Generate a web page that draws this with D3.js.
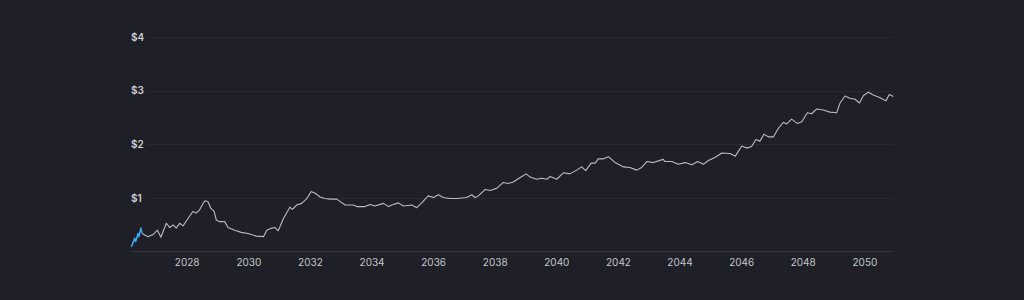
<!DOCTYPE html>
<html>
<head>
<meta charset="utf-8" />
<title>Price prediction</title>
<script src="https://cdn.jsdelivr.net/npm/d3@7/dist/d3.min.js"></script>
<style>
    html, body {
        margin: 0;
        padding: 0;
        background: #1f2027;
    }
    svg text {
        font-family: Inter, "Noto Sans", sans-serif;
    }
</style>
</head>
<body>
<div id="chart"></div>
<script>
// price history (blue)
var historyYears  = [2026.20, 2026.31, 2026.34, 2026.42, 2026.45, 2026.51, 2026.55];
var historyPrices = [0.09, 0.25, 0.19, 0.34, 0.28, 0.44, 0.34];

// forecast (grey)
var forecastYears = [
    2026.55, 2026.64, 2026.74, 2026.91, 2027.05, 2027.16, 2027.34, 2027.45, 2027.56, 2027.66,
    2027.77, 2027.88, 2028.02, 2028.20, 2028.31, 2028.42, 2028.53, 2028.60, 2028.69, 2028.78,
    2028.89, 2028.96, 2029.07, 2029.23, 2029.34, 2029.56, 2029.77, 2029.99, 2030.26, 2030.49,
    2030.60, 2030.76, 2030.87, 2030.97, 2031.14, 2031.35, 2031.43, 2031.57, 2031.73, 2031.90,
    2032.04, 2032.17, 2032.33, 2032.49, 2032.65, 2032.87, 2033.14, 2033.41, 2033.52, 2033.79,
    2033.95, 2034.11, 2034.38, 2034.55, 2034.66, 2034.87, 2035.03, 2035.31, 2035.47, 2035.63,
    2035.84, 2036.01, 2036.17, 2036.33, 2036.55, 2036.77, 2037.09, 2037.25, 2037.36, 2037.47,
    2037.69, 2037.85, 2038.06, 2038.28, 2038.44, 2038.60, 2038.88, 2039.02, 2039.15, 2039.36,
    2039.53, 2039.69, 2039.80, 2040.01, 2040.23, 2040.44, 2040.66, 2040.82, 2040.95, 2041.13,
    2041.26, 2041.36, 2041.53, 2041.69, 2041.91, 2042.18, 2042.39, 2042.61, 2042.77, 2042.94,
    2043.15, 2043.47, 2043.53, 2043.75, 2043.96, 2044.18, 2044.40, 2044.59, 2044.77, 2044.94,
    2045.16, 2045.37, 2045.64, 2045.81, 2046.02, 2046.18, 2046.34, 2046.48, 2046.61, 2046.74,
    2046.88, 2047.05, 2047.21, 2047.37, 2047.48, 2047.64, 2047.82, 2047.97, 2048.15, 2048.29,
    2048.45, 2048.67, 2048.88, 2049.10, 2049.21, 2049.37, 2049.53, 2049.70, 2049.84, 2049.97,
    2050.13, 2050.29, 2050.51, 2050.70, 2050.81, 2050.94
];
var forecastPrices = [
    0.34, 0.31, 0.28, 0.32, 0.40, 0.27, 0.53, 0.45, 0.50, 0.44,
    0.53, 0.48, 0.60, 0.75, 0.72, 0.78, 0.90, 0.95, 0.93, 0.81,
    0.75, 0.59, 0.56, 0.56, 0.45, 0.40, 0.36, 0.34, 0.29, 0.28,
    0.40, 0.44, 0.45, 0.39, 0.62, 0.83, 0.79, 0.87, 0.90, 0.99,
    1.12, 1.09, 1.02, 0.99, 0.98, 0.98, 0.87, 0.87, 0.84, 0.84,
    0.88, 0.85, 0.90, 0.84, 0.87, 0.91, 0.85, 0.87, 0.82, 0.91,
    1.04, 1.01, 1.06, 1.01, 0.99, 0.99, 1.01, 1.06, 1.01, 1.04,
    1.16, 1.14, 1.18, 1.29, 1.27, 1.30, 1.40, 1.45, 1.39, 1.35,
    1.37, 1.35, 1.40, 1.35, 1.47, 1.45, 1.52, 1.58, 1.51, 1.65,
    1.65, 1.73, 1.73, 1.77, 1.66, 1.58, 1.57, 1.52, 1.57, 1.68,
    1.66, 1.72, 1.68, 1.68, 1.63, 1.66, 1.62, 1.68, 1.63, 1.70,
    1.76, 1.84, 1.83, 1.78, 1.97, 1.93, 1.96, 2.09, 2.06, 2.19,
    2.14, 2.14, 2.30, 2.41, 2.38, 2.47, 2.39, 2.42, 2.59, 2.57,
    2.66, 2.64, 2.60, 2.59, 2.77, 2.90, 2.86, 2.84, 2.77, 2.91,
    2.97, 2.92, 2.87, 2.81, 2.93, 2.89
];

var yTicks = [0, 1, 2, 3, 4];
var xTickYears = [2028, 2030, 2032, 2034, 2036, 2038, 2040, 2042, 2044, 2046, 2048, 2050];

// decimal year -> Date
function toDate(y) {
    var yr = Math.floor(y);
    var start = new Date(yr, 0, 1), end = new Date(yr + 1, 0, 1);
    return new Date(+start + (y - yr) * (end - start));
}

var width = 1024, height = 300;
var svg = d3.select("#chart").append("svg")
    .attr("width", width)
    .attr("height", height);

var x = d3.scaleTime()
    .domain([toDate(2026.20), toDate(2050.94)])
    .range([131.3, 893.3]);

var y = d3.scaleLinear()
    .domain([0, 4])
    .range([251.7, 37]);

// gridlines
svg.append("g")
    .selectAll("line")
    .data(yTicks.filter(function (d) { return d > 0; }))
    .enter().append("line")
    .attr("x1", 148)
    .attr("x2", 893)
    .attr("y1", function (d) { return Math.round(y(d)) + 0.5; })
    .attr("y2", function (d) { return Math.round(y(d)) + 0.5; })
    .attr("stroke", "#282a32")
    .attr("stroke-width", 1);

// baseline
svg.append("line")
    .attr("x1", 131)
    .attr("x2", 893)
    .attr("y1", Math.round(y(0)) - 0.5)
    .attr("y2", Math.round(y(0)) - 0.5)
    .attr("stroke", "#34363f")
    .attr("stroke-width", 1);

// y labels
svg.append("g")
    .selectAll("text")
    .data(yTicks.filter(function (d) { return d > 0; }))
    .enter().append("text")
    .attr("x", 131)
    .attr("y", function (d) { return y(d); })
    .attr("dy", "0.35em")
    .attr("fill", "#cfd0d4")
    .style("font-size", "10px")
    .style("font-weight", "600")
    .text(function (d) { return "$" + d; });

// x axis
var xAxis = d3.axisBottom(x)
    .tickValues(xTickYears.map(function (d) { return new Date(d, 0, 1); }))
    .tickFormat(d3.timeFormat("%Y"))
    .tickSize(0)
    .tickPadding(7);

var gx = svg.append("g")
    .attr("transform", "translate(0," + Math.round(y(0)) + ")")
    .call(xAxis);
gx.select(".domain").remove();
gx.selectAll("text")
    .attr("fill", "#c4c5ca")
    .style("font-size", "10px")
    .style("font-family", "Inter, 'Noto Sans', sans-serif");

var line = d3.line()
    .x(function (d) { return x(toDate(d[0])); })
    .y(function (d) { return y(d[1]); });

svg.append("path")
    .datum(d3.zip(forecastYears, forecastPrices))
    .attr("d", line)
    .attr("fill", "none")
    .attr("stroke", "#b9bbc2")
    .attr("stroke-width", 1.1)
    .attr("stroke-linejoin", "round");

svg.append("path")
    .datum(d3.zip(historyYears, historyPrices))
    .attr("d", line)
    .attr("fill", "none")
    .attr("stroke", "#3fa9ee")
    .attr("stroke-width", 1.5)
    .attr("stroke-linejoin", "round");
</script>
</body>
</html>
